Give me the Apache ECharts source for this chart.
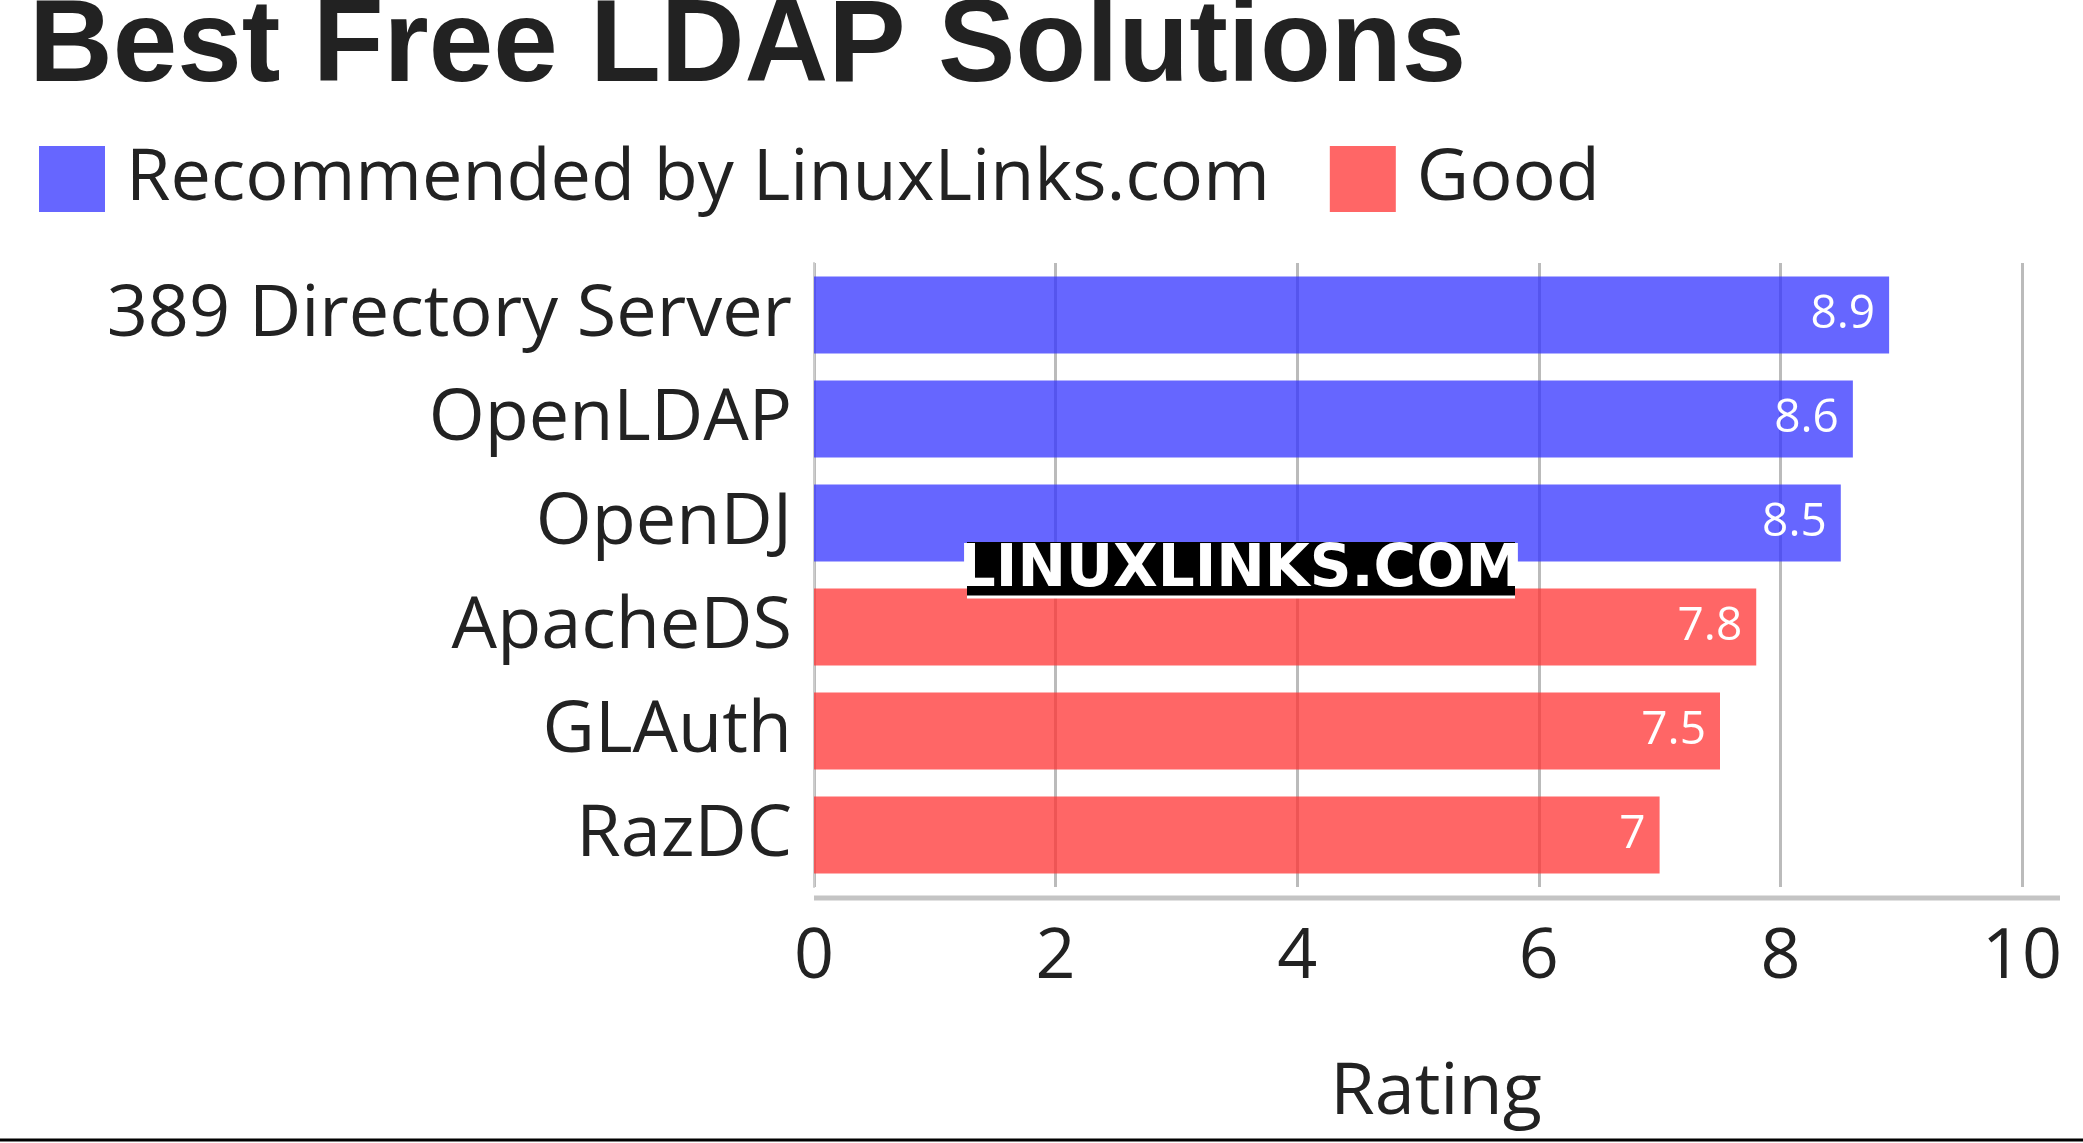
<!DOCTYPE html>
<html><head><meta charset="utf-8">
<script src="https://cdn.jsdelivr.net/npm/echarts@6/dist/echarts.min.js"></script>
<style>html,body{margin:0;padding:0;background:#fff}#c{width:2083px;height:1143px}</style>
</head><body><div id="c"></div>
<script>
const categories = ["389 Directory Server","OpenLDAP","OpenDJ","ApacheDS","GLAuth","RazDC"];
const recommended = [8.9, 8.6, 8.5, null, null, null];
const good = [null, null, null, 7.8, 7.5, 7];
const xTicks = [0, 10, 2];

const chart = echarts.init(document.getElementById('c'));
const F = "'Open Sans', 'Noto Sans', sans-serif";
const lbl = {show:true, position:'insideRight', color:'#fff', fontSize:46, fontFamily:F, distance:14};
chart.setOption({
  animation:false,
  title:{text:'Best Free LDAP Solutions', left:24, top:-14,
    textStyle:{fontFamily:"'Liberation Sans', Arial, sans-serif", fontWeight:'bold', fontSize:116, color:'#222'}},
  legend:{left:34, top:138, itemWidth:66, itemHeight:66, itemGap:60, icon:'rect',
    textStyle:{fontFamily:F, fontSize:72, color:'#222', padding:[0,0,0,16]},
    data:['Recommended by LinuxLinks.com','Good']},
  grid:{left:814, right:61, top:263, bottom:256, containLabel:false, outerBoundsMode:'none'},
  xAxis:{type:'value', min:xTicks[0], max:xTicks[1], interval:xTicks[2],
    name:'Rating', nameLocation:'middle', nameGap:170,
    nameTextStyle:{fontFamily:F, fontSize:72, color:'#222', padding:[0,0,0,36]},
    axisLabel:{fontFamily:F, fontSize:70, color:'#222', margin:36},
    axisLine:{show:false}, axisTick:{show:false},
    splitLine:{lineStyle:{color:'#bbb', width:3}}},
  yAxis:{type:'category', inverse:true, data:categories,
    axisLabel:{fontFamily:F, fontSize:72, color:'#222', margin:22},
    axisLine:{show:true, lineStyle:{color:'#ccc', width:2}}, axisTick:{show:false}},
  series:[
    {name:'Recommended by LinuxLinks.com', type:'bar', stack:'a', data:recommended, barWidth:'74%',
     itemStyle:{color:'rgba(51,51,255,0.75)'}, label:lbl},
    {name:'Good', type:'bar', stack:'a', data:good, barWidth:'74%',
     itemStyle:{color:'rgba(255,51,51,0.75)'}, label:lbl}
  ],
  graphic:[
    {type:'line', z:100, shape:{x1:814, y1:898, x2:2060, y2:898}, style:{stroke:'#c4c4c4', lineWidth:5}},
    {type:'rect', z:100, shape:{x:967, y:542, width:548, height:56}, style:{fill:'#000'}},
    {type:'line', z:101, shape:{x1:967, y1:597, x2:1515, y2:597}, style:{stroke:'#fff', lineWidth:3}},
    {type:'text', z:102, x:1241, y:571, style:{text:'LINUXLINKS.COM', fill:'#fff', fontSize:58, fontWeight:'bold',
      fontFamily:"'DejaVu Sans','DejaVu Sans Condensed',sans-serif", align:'center', verticalAlign:'middle'}},
    {type:'line', z:100, shape:{x1:0, y1:1140, x2:2083, y2:1140}, style:{stroke:'#000', lineWidth:3}}
  ]
});
</script></body></html>
